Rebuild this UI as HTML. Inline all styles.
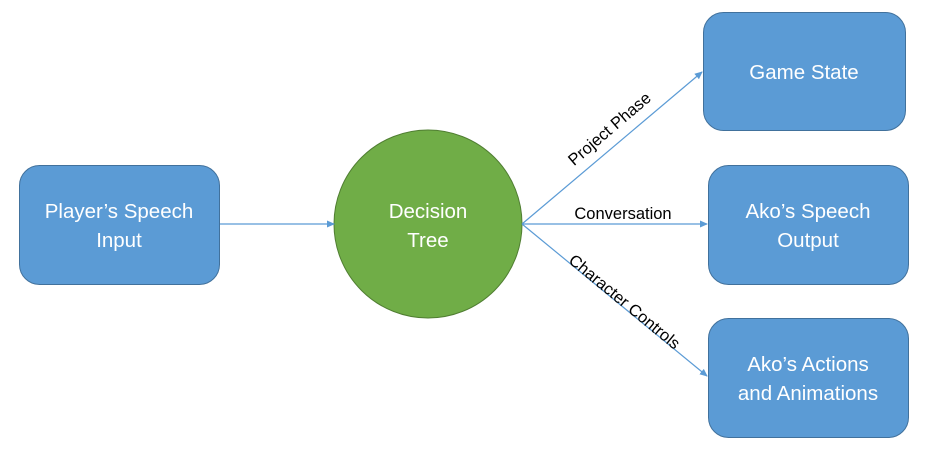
<!DOCTYPE html>
<html><head><style>
body{margin:0;width:926px;height:451px;background:#fff;overflow:hidden;font-family:"Liberation Sans",sans-serif}
</style></head><body>
<svg width="926" height="451" viewBox="0 0 926 451" xmlns="http://www.w3.org/2000/svg">
<defs><marker id="a" markerWidth="8" markerHeight="8" refX="7" refY="4" orient="auto" markerUnits="userSpaceOnUse"><path d="M0,0.5 L8,4 L0,7.5 z" fill="#5b9bd5"/></marker></defs>
<g fill="#5b9bd5" stroke="#41719c" stroke-width="1">
<rect x="19.5" y="165.5" width="200" height="119" rx="20"/>
<rect x="703.5" y="12.5" width="202" height="118" rx="20"/>
<rect x="708.5" y="165.5" width="200" height="119" rx="20"/>
<rect x="708.5" y="318.5" width="200" height="119" rx="20"/>
</g>
<circle cx="428" cy="224" r="94" fill="#70ad47" stroke="#507e32" stroke-width="1"/>
<g stroke="#5b9bd5" stroke-width="1.2" fill="none">
<line x1="220" y1="224" x2="334" y2="224" marker-end="url(#a)"/>
<line x1="522" y1="224" x2="702" y2="72" marker-end="url(#a)"/>
<line x1="522" y1="224" x2="707" y2="224" marker-end="url(#a)"/>
<line x1="522" y1="224" x2="707" y2="376" marker-end="url(#a)"/>
</g>
<g fill="#fff" font-size="20.5" text-anchor="middle">
<text x="119" y="218">Player’s Speech</text><text x="119" y="247">Input</text>
<text x="428" y="218">Decision</text><text x="428" y="247">Tree</text>
<text x="804" y="79">Game State</text>
<text x="808" y="218">Ako’s Speech</text><text x="808" y="247">Output</text>
<text x="808" y="371">Ako’s Actions</text><text x="808" y="400">and Animations</text>
</g>
<g fill="#000" font-size="16.5" text-anchor="middle">
<text x="623" y="219">Conversation</text>
<text transform="translate(613,133) rotate(-40.5)">Project Phase</text>
<text transform="translate(621,306) rotate(39.5)">Character Controls</text>
</g>
</svg>
</body></html>
